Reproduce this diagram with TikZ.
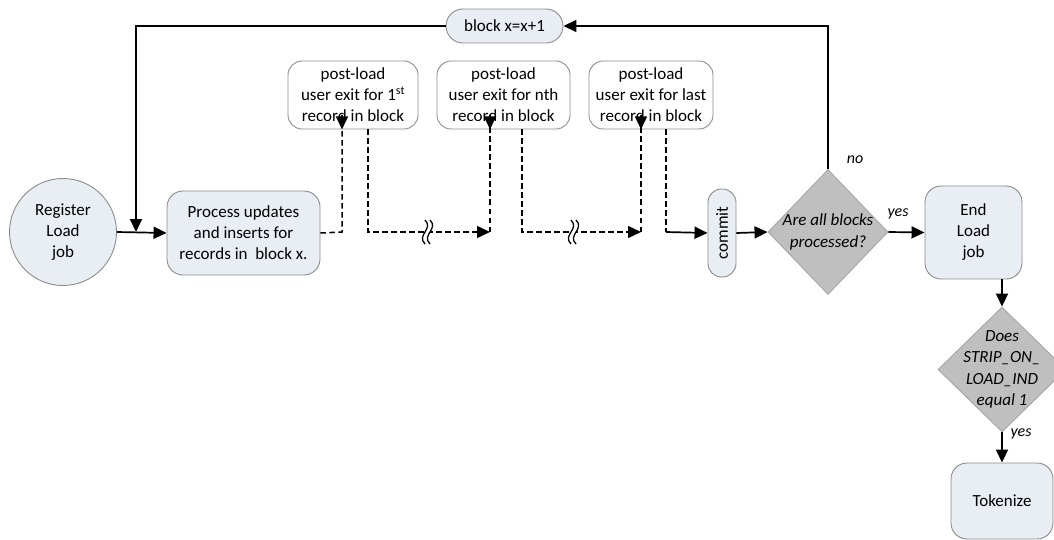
\documentclass[tikz,border=0pt]{standalone}
\usepackage{fontspec}
\setmainfont{Carlito}
\usetikzlibrary{arrows.meta,shapes.geometric,calc}
\definecolor{boxfill}{HTML}{E9EDF4}
\definecolor{boxline}{HTML}{8C8C8C}
\definecolor{diafill}{HTML}{BFBFBF}
\definecolor{dialine}{HTML}{A6A6A6}
\tikzset{
  base/.style={align=center, font=\fontsize{17}{21}\selectfont, inner sep=1pt, line width=0.9pt},
  procbox/.style={base, draw=boxline, fill=boxfill, rounded corners=16pt},
  exitbox/.style={base, draw=boxline, fill=white, rounded corners=14pt},
  diam/.style={base, diamond, draw=dialine, fill=diafill, inner sep=0pt},
  dtext/.style={base, font=\fontsize{17}{21.5}\selectfont\itshape},
  tip/.style={-{Triangle[length=13pt,width=12pt]}},
  flow/.style={line width=1.7pt, tip},
  dflow/.style={line width=1.5pt, dash pattern=on 5.5pt off 3.5pt},
  lbl/.style={font=\fontsize{16}{19}\selectfont\itshape, inner sep=0pt}
}
\begin{document}
\begin{tikzpicture}[x=1pt,y=-1pt]
\useasboundingbox (0,0) rectangle (1054,540);
% nodes
\node[procbox, circle, rounded corners=0pt, minimum size=107pt] (reg) at (63,232) {Register\\Load\\job};
\node[procbox, minimum width=153pt, minimum height=84pt] (proc) at (243.5,233) {Process updates\\and inserts for\\records in~ block x.};
\node[procbox, rounded corners=17pt, minimum width=117pt, minimum height=34pt] (blk) at (504.5,26) {block x=x+1};
\node[exitbox, minimum width=130pt, minimum height=68pt] (e1) at (353,95) {post-load\\user exit for 1\textsuperscript{st}\\record in block};
\node[exitbox, minimum width=133pt, minimum height=68pt] (e2) at (503.5,95) {post-load\\user exit for nth\\record in block};
\node[exitbox, minimum width=124pt, minimum height=68pt] (e3) at (651,95) {post-load\\user exit for last\\record in block};
\node[procbox, rounded corners=13.5pt, minimum width=28pt, minimum height=88pt] (commit) at (722,233) {};
\node[base, rotate=90] (committxt) at (commit.center) {commit};
\node[diam, minimum width=120pt, minimum height=125pt] (d1) at (828,232) {};
\node[dtext] (d1txt) at (d1.center) {Are all blocks\\processed?};
\node[procbox, minimum width=97pt, minimum height=93pt] (endj) at (973.5,232.5) {End\\Load\\job};
\node[diam, minimum width=128pt, minimum height=125pt] (d2) at (1002,369.5) {};
\node[dtext] (d2txt) at (d2.center) {Does\\STRIP\_ON\_\\LOAD\_IND\\equal 1};
\node[procbox, minimum width=102pt, minimum height=76pt] (tok) at (1002,501) {Tokenize};
% coordinates
\coordinate (loopx) at (136,232);
\coordinate (u1) at (342,232);
\coordinate (g1) at (368,232);
\coordinate (u2) at (490,232);
\coordinate (g2) at (522,232);
\coordinate (u3) at (641,232);
\coordinate (g3) at (666,232);
% solid flows
\draw[flow] (reg.east) -- (proc.west);
\draw[flow] (d1.north) |- (blk.east);
\draw[flow] (blk.west) -| (loopx);
\draw[flow] (commit.east) -- (d1.west);
\draw[flow] (d1.east) -- (endj.west);
\draw[flow] (endj.south -| d2.north) -- (d2.north);
\draw[flow] (d2.south) -- (tok.north);
% dashed flows
\draw[dflow] (proc.east) -- (u1) -- ([yshift=14pt]u1 |- e1.south);
\draw[tip, line width=1.5pt] ([yshift=14pt]u1 |- e1.south) -- (u1 |- e1.south);
\draw[dflow] (g1 |- e1.south) -- (g1) -- ([xshift=-14pt]u2);
\draw[tip, line width=1.5pt] ([xshift=-14pt]u2) -- (u2);
\draw[dflow] (u2) -- ([yshift=14pt]u2 |- e2.south);
\draw[tip, line width=1.5pt] ([yshift=14pt]u2 |- e2.south) -- (u2 |- e2.south);
\draw[dflow] (g2 |- e2.south) -- (g2) -- ([xshift=-14pt]u3);
\draw[tip, line width=1.5pt] ([xshift=-14pt]u3) -- (u3);
\draw[dflow] (u3) -- ([yshift=14pt]u3 |- e3.south);
\draw[tip, line width=1.5pt] ([yshift=14pt]u3 |- e3.south) -- (u3 |- e3.south);
\draw[dflow] (g3 |- e3.south) -- (g3);
\draw[flow] (g3) -- (commit.west);
% break marks
\foreach \bx in {427,573}{
  \fill[white] (\bx-3,223) rectangle (\bx+3,241);
  \draw[line width=1.3pt] (\bx-2,244) .. controls (\bx-11,235) and (\bx+7,229) .. (\bx-2,220);
  \draw[line width=1.3pt] (\bx+3,244) .. controls (\bx-6,235) and (\bx+12,229) .. (\bx+3,220);
}
% labels
\node[lbl] (lno) at (855,160) {no};
\node[lbl] (lyes1) at (898,214) {yes};
\node[lbl] (lyes2) at (1021,434) {yes};
\end{tikzpicture}
\end{document}
